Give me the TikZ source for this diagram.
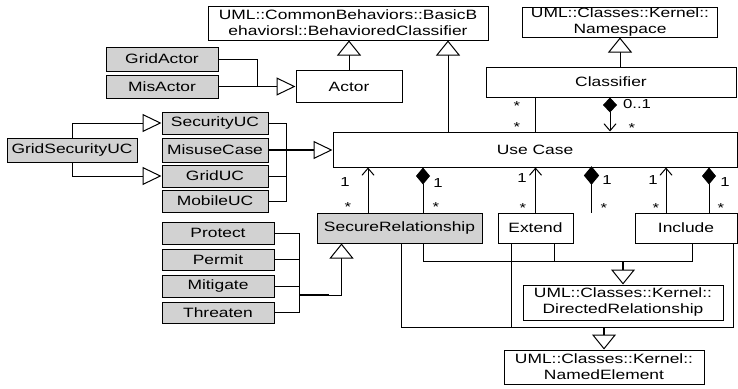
\documentclass[tikz,border=0pt]{standalone}
\usepackage{fontspec}
\setmainfont[FakeStretch=1.29]{Liberation Sans}
\usetikzlibrary{arrows.meta,calc}
\tikzset{
 box/.style={draw, line width=1pt, fill=white, inner sep=0pt, font=\fontsize{13.5}{16}\selectfont, align=center},
 gbox/.style={box, fill=gray!35},
 ln/.style={line width=1pt},
 thk/.style={line width=1.6pt},
 gen/.style={ln, -{Triangle[open, length=15pt, width=24pt, fill=white]}},
 genh/.style={ln, -{Triangle[open, length=19pt, width=18pt, fill=white]}},
 comp/.style={ln, {Diamond[length=17pt, width=14pt]}-},
 nav/.style={ln, -{Straight Barb[length=7pt, width=12pt]}},
 lbl/.style={inner sep=0pt, anchor=base, font=\fontsize{13}{15}\selectfont},
}
\begin{document}
\begin{tikzpicture}[x=1pt,y=-1pt]
\useasboundingbox (0,0) rectangle (738,388);
% boxes
\node[box, minimum width=280pt, minimum height=34pt] (BC) at (348,23) {UML::CommonBehaviors::BasicB\\ehaviorsl::BehavioredClassifier};
\node[box, minimum width=195pt, minimum height=30pt] (NS) at (620,22) {UML::Classes::Kernel::\\Namespace};
\node[box, minimum width=250pt, minimum height=30pt] (CL) at (611,82) {Classifier};
\node[box, minimum width=106pt, minimum height=32pt] (AC) at (349,86.5) {Actor};
\node[gbox, minimum width=112pt, minimum height=24pt] (GA) at (162,59) {GridActor};
\node[gbox, minimum width=112pt, minimum height=23pt] (MA) at (162,86.5) {MisActor};
\node[gbox, minimum width=106pt, minimum height=22pt] (SUC) at (215,123) {SecurityUC};
\node[gbox, minimum width=106pt, minimum height=24pt] (MUC) at (215,150) {MisuseCase};
\node[gbox, minimum width=106pt, minimum height=22pt] (GUC) at (215,176) {GridUC};
\node[gbox, minimum width=106pt, minimum height=22pt] (MOB) at (215,201) {MobileUC};
\node[gbox, minimum width=130pt, minimum height=24pt] (GSUC) at (72,150) {GridSecurityUC};
\node[box, minimum width=404pt, minimum height=35pt] (UC) at (535,149.5) {Use Case};
\node[gbox, minimum width=165pt, minimum height=30pt] (SR) at (399.5,228) {SecureRelationship};
\node[box, minimum width=75pt, minimum height=30pt] (EX) at (535.5,228) {Extend};
\node[box, minimum width=102pt, minimum height=30pt] (IN) at (686,228) {Include};
\node[gbox, minimum width=112pt, minimum height=22pt] (PR) at (218,233) {Protect};
\node[gbox, minimum width=112pt, minimum height=21pt] (PE) at (218,259.5) {Permit};
\node[gbox, minimum width=112pt, minimum height=22pt] (MI) at (218,286) {Mitigate};
\node[gbox, minimum width=112pt, minimum height=21pt] (TH) at (218,312.5) {Threaten};
\node[box, minimum width=200pt, minimum height=35pt] (DR) at (623,302.5) {UML::Classes::Kernel::\\DirectedRelationship};
\node[box, minimum width=200pt, minimum height=34pt] (NE) at (604,367) {UML::Classes::Kernel::\\NamedElement};
% junction coordinates
\coordinate (jA) at (257,86.5);
\coordinate (jU) at (286,150);
\coordinate (jP) at (299,295);
\coordinate (jD) at (623,261);
\coordinate (jN) at (604,327);
% association end points
\coordinate (ucB) at (448,132);
\coordinate (srA) at (368,213);
\coordinate (srC) at (423,213);
\coordinate (exT) at (591.5,167);
\coordinate (exC) at (591.5,213);
\coordinate (inA) at (666,213);
\coordinate (inC) at (709,213);
% actor generalizations
\draw[ln] (GA.east) -| (jA);
\draw[genh] (MA.east) -- (AC.west);
\draw[gen] (AC.north) -- (AC.north |- BC.south);
% use case generalizations
\draw[gen] (ucB) -- (ucB |- BC.south);
\draw[gen] (CL.north -| NS.south) -- (NS.south);
% classifier - use case
\draw[ln] (UC.north) -- (UC.north |- CL.south);
\draw[ln, {Diamond[length=15pt, width=14pt]}-{Straight Barb[length=7pt, width=12pt]}] ([xshift=-1pt]CL.south) -- ([xshift=-1pt]CL.south |- UC.north);
% grid security
\draw[genh] (GSUC.north) |- (SUC.west);
\draw[genh] (GSUC.south) |- (GUC.west);
% use case specialisations
\draw[ln] (SUC.east) -| (jU |- MOB.east) -- (MOB.east);
\draw[ln] (GUC.east) -- (jU |- GUC.east);
\draw[thk] (MUC.east) -- ([xshift=-18pt]UC.west |- MUC.east);
\draw[genh] ([xshift=-20pt]UC.west |- MUC.east) -- (UC.west |- MUC.east);
% relationships specialisations
\draw[ln] (PR.east) -| (jP |- TH.east) -- (TH.east);
\draw[ln] (PE.east) -- (jP |- PE.east);
\draw[ln] (MI.east) -- (jP |- MI.east);
\draw[thk] (jP) -- ++(30,0);
\draw[gen] (jP) -| ([xshift=25pt]SR.south west);
% associations below use case
\draw[nav] (srA) -- (srA |- UC.south);
\draw[comp] (srC |- UC.south) -- (srC);
\draw[nav] (EX.north) -- (EX.north |- UC.south);
\draw[ln] (exT) -- (exC);
\draw[ln, fill=black] (exT) -- ++(7,8.5) -- ++(-7,8.5) -- ++(-7,-8.5) -- cycle;
\draw[nav] (inA) -- (inA |- UC.south);
\draw[comp] (inC |- UC.south) -- (inC);
% directed relationship
\draw[ln] ([xshift=23.5pt]SR.south) -- ([xshift=23.5pt]SR.south |- jD) -- ([xshift=6pt]IN.south |- jD) -- ([xshift=6pt]IN.south);
\draw[ln] ([xshift=18.5pt]EX.south) -- ([xshift=18.5pt]EX.south |- jD);
\draw[thk] (jD) -- ++(0,11);
\draw[gen] ([yshift=-10pt]jD) -- (DR.north);
% named element
\draw[ln] ([xshift=1.5pt]SR.south) -- ([xshift=1.5pt]SR.south |- jN) -- ([xshift=47pt]IN.south |- jN) -- ([xshift=47pt]IN.south);
\draw[ln] ([xshift=-24.5pt]EX.south) -- ([xshift=-24.5pt]EX.south |- jN);
\draw[thk] (jN) -- ++(0,9);
\draw[gen] ([yshift=-8pt]jN) -- (NE.north);
% multiplicities
\node[lbl] (s1) at (517,110.4) {*};
\node[lbl] (s2) at (517,131.4) {*};
\node[lbl] (s3) at (632,132.4) {*};
\node[lbl] (m1) at (637,108.7) {0..1};
\node[lbl] (a1) at (345,186.7) {1};
\node[lbl] (a2) at (348,211.4) {*};
\node[lbl] (a3) at (438,187.7) {1};
\node[lbl] (a4) at (436,211.4) {*};
\node[lbl] (b1) at (522,182.7) {1};
\node[lbl] (b2) at (523,212.4) {*};
\node[lbl] (b3) at (607,184.7) {1};
\node[lbl] (b4) at (604,212.4) {*};
\node[lbl] (c1) at (653,184.7) {1};
\node[lbl] (c2) at (656,212.4) {*};
\node[lbl] (c3) at (725,186.7) {1};
\node[lbl] (c4) at (721,212.4) {*};
\end{tikzpicture}
\end{document}
